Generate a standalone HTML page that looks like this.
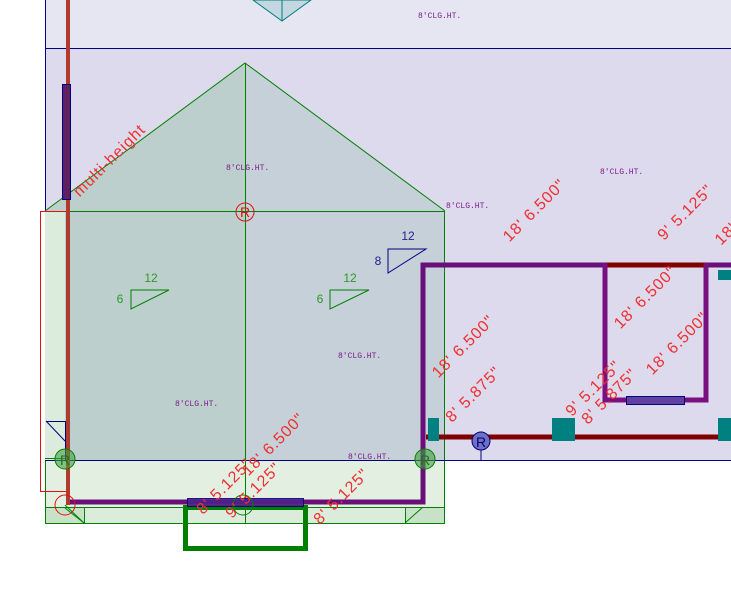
<!DOCTYPE html>
<html><head><meta charset="utf-8"><style>
html,body{margin:0;padding:0;background:#fff;width:731px;height:592px;overflow:hidden}
svg{display:block}
.d{font-family:"Liberation Sans",sans-serif;font-size:16px;letter-spacing:1px;fill:#f03030}
.c{font-family:"Liberation Mono",monospace;font-size:8px;fill:#7a1a8a}
.g{font-family:"Liberation Sans",sans-serif;font-size:12px;fill:#2a9a2a}
.b{font-family:"Liberation Sans",sans-serif;font-size:12px;fill:#202090}
</style></head><body>
<svg width="731" height="592" viewBox="0 0 731 592" xmlns="http://www.w3.org/2000/svg">
<rect x="45" y="0" width="686" height="48" fill="#e6e6f2"/>
<rect x="45" y="48" width="686" height="412" fill="#dcdaec"/>
<line x1="45.5" y1="0" x2="45.5" y2="460" stroke="#000080"/>
<line x1="45" y1="48.5" x2="731" y2="48.5" stroke="#000080"/>
<polygon points="253,0 282,21 311,0" fill="#c4d6e0" stroke="#008080"/>
<line x1="282" y1="0" x2="282" y2="21" stroke="#008080"/>
<polygon points="45,211 245,63 245,460 45,460" fill="#bdcfcd"/>
<polygon points="245,63 445,211 445,460 245,460" fill="#c6d0d8"/>
<polyline points="45,211 245,63 445,211" fill="none" stroke="#008000"/>
<rect x="45.5" y="211.5" width="399" height="311" fill="none" stroke="#008000"/>
<rect x="45" y="460" width="400" height="63" fill="#e3f0e1"/>
<rect x="45" y="211" width="20" height="249" fill="#dcecdc"/>
<rect x="45.5" y="507.5" width="399" height="16" fill="#dcecdc" stroke="#008000"/>
<rect x="45.5" y="460.5" width="399" height="63" fill="none" stroke="#008000"/>
<rect x="46" y="508" width="38" height="15" fill="#c8e2c8"/>
<rect x="405" y="508" width="39" height="15" fill="#c8e2c8"/>
<line x1="65" y1="508" x2="84" y2="523" stroke="#008000"/>
<line x1="84.5" y1="507" x2="84.5" y2="523" stroke="#008000"/>
<line x1="405.5" y1="507" x2="405.5" y2="523" stroke="#008000"/>
<line x1="405" y1="523" x2="423" y2="507" stroke="#008000"/>
<line x1="245.5" y1="63" x2="245.5" y2="523" stroke="#008000"/>
<line x1="45" y1="460.5" x2="731" y2="460.5" stroke="#000080"/>
<line x1="45" y1="458.5" x2="66" y2="458.5" stroke="#008000"/>
<polyline points="46,421.5 65.5,421.5 65.5,460" fill="none" stroke="#000080"/>
<line x1="46" y1="421" x2="65" y2="441" stroke="#000080"/>
<rect x="40.5" y="211.5" width="27" height="280" fill="none" stroke="#e01010"/>
<rect x="66" y="0" width="4" height="505" fill="#b03a2e"/>
<rect x="62.5" y="84.5" width="8" height="115" fill="#5e2060" stroke="#000080"/>
<polyline points="70,502 423,502 423,265 605,265" fill="none" stroke="#6a0f7a" stroke-width="5"/>
<polyline points="706,265 731,265" fill="none" stroke="#6a0f7a" stroke-width="5"/>
<line x1="605" y1="265" x2="706" y2="265" stroke="#800000" stroke-width="5"/>
<polyline points="605,263 605,400 706,400 706,263" fill="none" stroke="#7a0f80" stroke-width="5"/>
<line x1="426" y1="437" x2="731" y2="437" stroke="#800000" stroke-width="5"/>
<rect x="428" y="418" width="11" height="23" fill="#008080"/>
<rect x="552" y="418" width="23" height="23" fill="#008080"/>
<rect x="718" y="418" width="13" height="23" fill="#008080"/>
<rect x="718" y="270" width="13" height="10" fill="#008080"/>
<rect x="626.5" y="396.5" width="58" height="8" fill="#6040a0" stroke="#000080"/>
<rect x="185.5" y="507.5" width="120" height="41" fill="none" stroke="#008000" stroke-width="5"/>
<rect x="187.5" y="498.5" width="116" height="8" fill="#50208a" stroke="#000080" opacity="0.9"/>
<circle cx="245" cy="212" r="9" fill="none" stroke="#e01010"/>
<text x="245" y="217" text-anchor="middle" font-family="Liberation Sans" font-size="14" fill="#e01010">R</text>
<circle cx="65" cy="459" r="10" fill="#40a040" fill-opacity="0.6" stroke="#008000"/>
<text x="65" y="465" text-anchor="middle" font-family="Liberation Sans" font-size="14" fill="#207020">R</text>
<circle cx="425" cy="459" r="10" fill="#40a040" fill-opacity="0.6" stroke="#008000"/>
<text x="425" y="465" text-anchor="middle" font-family="Liberation Sans" font-size="14" fill="#207020">R</text>
<circle cx="65" cy="505" r="10" fill="none" stroke="#e01010"/>
<line x1="65" y1="505" x2="84" y2="523" stroke="#008000"/>
<circle cx="243" cy="505" r="10" fill="none" stroke="#008000"/>
<line x1="481" y1="441" x2="481" y2="460" stroke="#000080"/>
<circle cx="481" cy="441" r="9" fill="#7070c0" stroke="#000080"/>
<text x="481" y="447" text-anchor="middle" font-family="Liberation Sans" font-size="14" fill="#000080">R</text>
<polygon points="131,290 169,290 131,309" fill="none" stroke="#008000"/>
<text class="g" x="151" y="282" text-anchor="middle">12</text>
<text class="g" x="120" y="303" text-anchor="middle">6</text>
<polygon points="330,290 369,290 330,309" fill="none" stroke="#008000"/>
<text class="g" x="350" y="282" text-anchor="middle">12</text>
<text class="g" x="320" y="303" text-anchor="middle">6</text>
<polygon points="388,249 426,249 388,273" fill="none" stroke="#000080"/>
<text class="b" x="408" y="240" text-anchor="middle">12</text>
<text class="b" x="378" y="265" text-anchor="middle">8</text>
<text class="c" x="418" y="18">8'CLG.HT.</text>
<text class="c" x="226" y="170">8'CLG.HT.</text>
<text class="c" x="446" y="208">8'CLG.HT.</text>
<text class="c" x="600" y="174">8'CLG.HT.</text>
<text class="c" x="338" y="358">8'CLG.HT.</text>
<text class="c" x="175" y="406">8'CLG.HT.</text>
<text class="c" x="348" y="459">8'CLG.HT.</text>
<g class="d" text-anchor="middle">
<text transform="translate(113,164) rotate(-45)">multi-height</text>
<text transform="translate(538,214) rotate(-45)">18' 6.500"</text>
<text transform="translate(689,216) rotate(-45)">9' 5.125"</text>
<text transform="translate(735,232) rotate(-45)">18' 6</text>
<text transform="translate(649,301) rotate(-45)">18' 6.500"</text>
<text transform="translate(681,347) rotate(-45)">18' 6.500"</text>
<text transform="translate(467,350) rotate(-45)">18' 6.500"</text>
<text transform="translate(477,398) rotate(-45)">8' 5.875"</text>
<text transform="translate(597,392) rotate(-45)">9' 5.125"</text>
<text transform="translate(613,400) rotate(-45)">8' 5.875"</text>
<text transform="translate(277,448) rotate(-45)">18' 6.500"</text>
<text transform="translate(228,490) rotate(-45)">8' 5.125"</text>
<text transform="translate(257,494) rotate(-45)">9' 5.125"</text>
<text transform="translate(345,500) rotate(-45)">8' 5.125"</text>
</g>
</svg>
</body></html>
